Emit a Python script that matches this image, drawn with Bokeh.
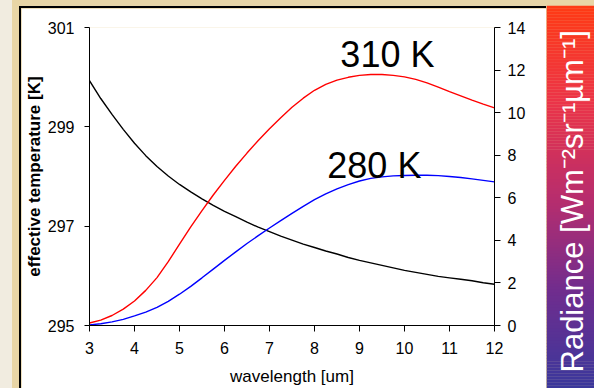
import numpy as np
from bokeh.plotting import figure
from bokeh.layouts import row, column
from bokeh.models import Range1d, LinearAxis, FixedTicker, Spacer, ColumnDataSource
from bokeh.embed import file_html
from bokeh.resources import INLINE
from bokeh.core.properties import value

# ---------------- data ----------------
wavelength = [3.00, 3.25, 3.50, 3.75, 4.00, 4.25, 4.50, 4.75, 5.00, 5.25,
              5.50, 5.75, 6.00, 6.25, 6.50, 6.75, 7.00, 7.25, 7.50, 7.75,
              8.00, 8.25, 8.50, 8.75, 9.00, 9.25, 9.50, 9.75, 10.00, 10.25,
              10.50, 10.75, 11.00, 11.25, 11.50, 11.75, 12.00]
t_effective = [299.93, 299.57, 299.25, 298.95, 298.67, 298.42, 298.20, 298.01, 297.84, 297.69,
               297.55, 297.42, 297.30, 297.19, 297.08, 296.98, 296.89, 296.80, 296.72, 296.64,
               296.57, 296.50, 296.44, 296.37, 296.31, 296.26, 296.21, 296.16, 296.11, 296.07,
               296.03, 295.99, 295.96, 295.93, 295.90, 295.86, 295.83]
radiance_310 = [0.12, 0.25, 0.47, 0.77, 1.15, 1.65, 2.25, 3.00, 3.82, 4.63,
                5.40, 6.13, 6.82, 7.48, 8.10, 8.69, 9.24, 9.76, 10.25, 10.68,
                11.05, 11.33, 11.53, 11.66, 11.75, 11.79, 11.79, 11.75, 11.68, 11.56,
                11.40, 11.20, 10.99, 10.79, 10.59, 10.40, 10.22]
radiance_280 = [0.03, 0.08, 0.17, 0.29, 0.45, 0.63, 0.85, 1.13, 1.47, 1.84,
                2.24, 2.65, 3.06, 3.46, 3.85, 4.22, 4.58, 4.93, 5.27, 5.60,
                5.91, 6.18, 6.42, 6.62, 6.79, 6.91, 6.98, 7.03, 7.05, 7.06,
                7.06, 7.04, 7.00, 6.95, 6.89, 6.82, 6.75]

x_ticks = [3, 4, 5, 6, 7, 8, 9, 10, 11, 12]
temp_ticks = [295, 297, 299, 301]
rad_ticks = [0, 2, 4, 6, 8, 10, 12, 14]

curve_names = ["310 K", "280 K"]
curve_name_x = [9.62, 9.33]
curve_name_y = [12.71, 7.52]

x_title = "wavelength [um]"
left_title = "effective temperature [K]"
right_title = "Radiance [Wm\u207b\u00b2sr\u207b\u00b9\u00b5m\u207b\u00b9]"

# ---------------- styling / layout constants ----------------
FONT = "Liberation Sans"
BEIGE = "#E8D5A6"
LIGHT = "#F1ECE0"

MAIN_W, MAIN_H = 525, 380
BAR_W, BAR_H = 48, 383

p = figure(width=MAIN_W, height=MAIN_H, output_backend="svg", toolbar_location=None,
           x_range=Range1d(3, 12), y_range=Range1d(295, 301),
           min_border_left=66, min_border_right=52, min_border_top=19, min_border_bottom=63,
           border_fill_color="white", background_fill_color="white", outline_line_color=None)
p.grid.visible = False
p.extra_y_ranges = {"rad": Range1d(0, 14)}

src = ColumnDataSource(dict(x=wavelength, t=t_effective, r310=radiance_310, r280=radiance_280))
p.line("x", "t", source=src, line_color="black", line_width=1.4)
p.line("x", "r310", source=src, line_color="#FF0000", line_width=1.4, y_range_name="rad")
p.line("x", "r280", source=src, line_color="#0000FF", line_width=1.4, y_range_name="rad")

p.text(x=curve_name_x, y=curve_name_y, text=curve_names, y_range_name="rad",
       text_font=value(FONT), text_font_size="36px", text_color="black",
       text_align="center", text_baseline="middle")

xa = p.xaxis[0]
ya = p.yaxis[0]
ra = LinearAxis(y_range_name="rad")
p.add_layout(ra, "right")

xa.ticker = FixedTicker(ticks=x_ticks)
ya.ticker = FixedTicker(ticks=temp_ticks)
ra.ticker = FixedTicker(ticks=rad_ticks)

for ax in (xa, ya, ra):
    ax.axis_line_color = "black"
    ax.axis_line_width = 1
    ax.major_tick_line_color = "black"
    ax.major_tick_in = 0
    ax.major_tick_out = 6
    ax.minor_tick_in = 0
    ax.minor_tick_out = 0
    ax.major_label_text_font = FONT
    ax.major_label_text_font_size = "16px"
    ax.major_label_text_color = "black"

ya.major_tick_out = 5
xa.major_label_standoff = 10
ya.major_label_standoff = 10
ra.major_label_standoff = 7

xa.axis_label = x_title
xa.axis_label_text_font = FONT
xa.axis_label_text_font_size = "17px"
xa.axis_label_text_font_style = "normal"
xa.axis_label_text_color = "black"
xa.axis_label_standoff = 10

ya.axis_label = left_title
ya.axis_label_text_font = FONT
ya.axis_label_text_font_size = "17px"
ya.axis_label_text_font_style = "bold"
ya.axis_label_text_color = "black"
ya.axis_label_standoff = 1

# ---------------- gradient side bar ----------------
bar = figure(width=BAR_W, height=BAR_H, output_backend="svg", toolbar_location=None,
             x_range=Range1d(0, BAR_W), y_range=Range1d(0, BAR_H),
             min_border=0, x_axis_type=None, y_axis_type=None,
             border_fill_color=BEIGE, background_fill_color=BEIGE, outline_line_color=None)
bar.grid.visible = False

stops_pos = [0.0, 0.25, 0.51, 0.745, 1.0]          # from top to bottom
stops_c = np.array([[255, 58, 20], [236, 52, 72], [182, 45, 110], [112, 45, 142], [58, 56, 156]])
n_bands = 128
edges = np.linspace(BAR_H, 0, n_bands + 1)
tops, bottoms, cols = [], [], []
for i in range(n_bands):
    f = (i + 0.5) / n_bands
    c = [int(round(np.interp(f, stops_pos, stops_c[:, k]))) for k in range(3)]
    tops.append(edges[i])
    bottoms.append(edges[i + 1] - 0.3)
    cols.append("#%02x%02x%02x" % tuple(c))
bar.quad(left=0, right=BAR_W, top=tops, bottom=bottoms, fill_color=cols, line_color=None)
bar.text(x=[26.0], y=[16], text=[right_title], angle=np.pi / 2,
         text_font=value(FONT), text_font_size="31px", text_color="white",
         text_align="left", text_baseline="middle")

def sp(w, h, color):
    return Spacer(width=w, height=h, styles={"background-color": color})

layout = row(
    sp(12, 388, LIGHT),
    sp(7, 388, BEIGE),
    column(sp(2, 6, BEIGE), sp(2, 382, "black")),
    column(sp(MAIN_W, 6, BEIGE), sp(MAIN_W, 2, "black"), p),
    column(sp(BAR_W, 5, BEIGE), bar),
    styles={"background-color": BEIGE},
)

open("out.html", "w").write(file_html(layout, INLINE))
